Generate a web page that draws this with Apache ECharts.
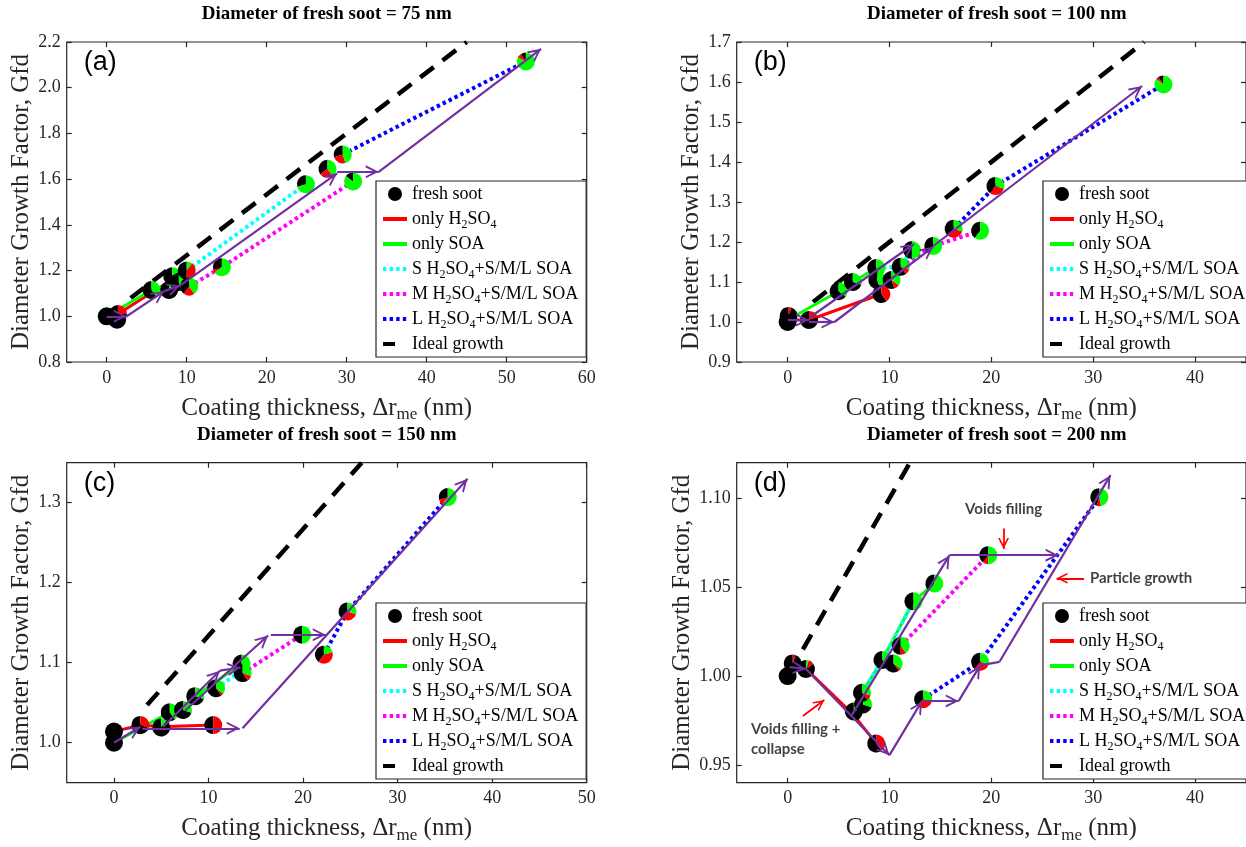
<!DOCTYPE html>
<html><head><meta charset="utf-8">
<script src="https://cdn.jsdelivr.net/npm/echarts@6/dist/echarts.min.js"></script>
<style>html,body{margin:0;padding:0;background:#fff}#c{width:1246px;height:847px}</style>
</head><body><div id="c"></div>
<script>
// ---------------- DATA ----------------
const titles = ['Diameter of fresh soot = 75 nm','Diameter of fresh soot = 100 nm','Diameter of fresh soot = 150 nm','Diameter of fresh soot = 200 nm'];
const panelLabels = ['(a)','(b)','(c)','(d)'];
const seriesNames = ['fresh soot','only H2SO4','only SOA','S H2SO4+S/M/L SOA','M H2SO4+S/M/L SOA','L H2SO4+S/M/L SOA','Ideal growth'];
const xTitle = 'Coating thickness, \u0394r{s|me} (nm)';
const yTitle = 'Diameter Growth Factor, Gfd';

const xRangeA = [-5,60], yRangeA = [0.8,2.2];
const xRangeB = [-5,45], yRangeB = [0.9,1.7];
const xRangeC = [-5,50], yRangeC = [0.95,1.35];
const xRangeD = [-5,45], yRangeD = [0.94,1.12];
const xTicksA = [0,10,20,30,40,50,60];
const xTicksB = [0,10,20,30,40];
const xTicksC = [0,10,20,30,40,50];
const xTicksD = [0,10,20,30,40];
const yTicksA = [0.8,1.0,1.2,1.4,1.6,1.8,2.0,2.2];
const yTicksB = [0.9,1.0,1.1,1.2,1.3,1.4,1.5,1.6,1.7];
const yTicksC = [1.0,1.1,1.2,1.3];
const yTicksD = [0.95,1.00,1.05,1.10];

// pies: [x, y, black fraction, red fraction, green fraction]
const piesA = [[0,1.0,1,0,0],[1.3,0.985,1,0,0],[1.4,1.01,0.75,0.25,0],[5.6,1.115,0.6,0,0.4],[7.8,1.115,0.8,0,0.2],[8.2,1.175,0.85,0,0.15],[9.0,1.15,0.55,0,0.45],[10.0,1.2,0.5,0.4,0.1],[10.3,1.13,0.4,0.2,0.4],[14.4,1.215,0.3,0.05,0.65],[24.9,1.578,0.3,0,0.7],[27.6,1.645,0.35,0.25,0.4],[29.5,1.708,0.3,0.25,0.45],[30.8,1.59,0.15,0,0.85],[52.4,2.115,0.1,0.08,0.82]];
const redA = [[0,1.0],[1.4,1.01],[10.0,1.2]];
const greenA = [[0,1.0],[5.6,1.115],[9.0,1.15]];
const cyanA = [[10.0,1.2],[24.9,1.578]];
const magentaA = [[10.3,1.13],[14.4,1.215],[30.8,1.59]];
const blueA = [[29.5,1.708],[52.4,2.115]];
const idealA = [[3,1.08],[45,2.2]];
const arrowsA = [[[0,1.0],[2.5,1.0]],[[2.5,1.0],[7.2,1.11]],[[7.2,1.11],[9.2,1.135]],[[9.2,1.135],[28.8,1.625]],[[28.8,1.632],[34,1.632]],[[34,1.632],[54.3,2.17]]];

const piesB = [[0,1.0,1,0,0],[0.1,1.015,0.95,0.05,0],[2.1,1.005,0.8,0.2,0],[5.0,1.077,0.65,0,0.35],[6.4,1.1,0.7,0,0.3],[8.7,1.135,0.6,0,0.4],[8.8,1.105,0.55,0,0.45],[9.2,1.07,0.6,0.4,0],[10.2,1.105,0.55,0.1,0.35],[11.1,1.138,0.6,0.1,0.3],[12.2,1.18,0.5,0,0.5],[14.3,1.19,0.4,0,0.6],[16.3,1.233,0.4,0.3,0.3],[18.9,1.228,0.4,0,0.6],[20.4,1.34,0.4,0.3,0.3],[36.9,1.594,0.1,0.05,0.85]];
const redB = [[0,1.005],[2.1,1.005],[9.2,1.07]];
const greenB = [[0,1.005],[5.0,1.077],[6.4,1.1],[8.7,1.135]];
const cyanB = [[8.7,1.135],[11.1,1.138],[12.2,1.18]];
const magentaB = [[11.1,1.138],[14.3,1.19],[18.9,1.228]];
const blueB = [[16.3,1.233],[20.4,1.34],[36.9,1.594]];
const idealB = [[2.5,1.05],[35,1.7]];
const arrowsB = [[[0,1.005],[2.1,1.005]],[[2.1,1.0],[4.6,1.0]],[[2.1,1.01],[12.4,1.195]],[[4.6,1.0],[14.3,1.188]],[[14.3,1.19],[34.8,1.59]]];

const piesC = [[0,1.0,1,0,0],[0,1.014,1,0,0],[2.8,1.022,0.7,0.3,0],[5.0,1.019,0.9,0,0.1],[5.9,1.038,0.6,0,0.4],[7.3,1.041,0.7,0,0.3],[8.6,1.058,0.7,0,0.3],[10.5,1.022,0.5,0.5,0],[10.8,1.068,0.6,0.05,0.35],[13.5,1.099,0.5,0,0.5],[13.6,1.087,0.6,0.1,0.3],[19.9,1.135,0.5,0,0.5],[22.2,1.11,0.4,0.4,0.2],[24.7,1.164,0.4,0.3,0.3],[35.3,1.307,0.3,0.1,0.6]];
const redC = [[0,1.014],[2.8,1.022],[5.0,1.02],[10.5,1.022]];
const greenC = [[0,1.0],[5.9,1.038],[7.3,1.041],[8.6,1.058],[13.5,1.099]];
const cyanC = [[10.8,1.068],[13.5,1.09]];
const magentaC = [[13.6,1.087],[19.9,1.135]];
const blueC = [[22.2,1.11],[24.7,1.164],[35.3,1.307]];
const idealC = [[3.5,1.047],[26.2,1.35]];
const arrowsC = [[[0,1.0],[2.8,1.02]],[[3,1.018],[13.3,1.018]],[[13.6,1.018],[37.4,1.33]],[[5.2,1.02],[11.2,1.09]],[[11.2,1.09],[13.4,1.094]],[[7.5,1.04],[16.3,1.134]],[[16.6,1.135],[22.4,1.135]]];

const piesD = [[0,1.0,1,0,0],[0.5,1.007,0.95,0.05,0],[1.8,1.004,0.85,0.1,0.05],[6.5,0.98,0.8,0,0.2],[7.4,0.984,0.7,0,0.3],[7.3,0.9906,0.6,0.1,0.3],[8.7,0.962,0.6,0.4,0],[9.3,1.009,0.6,0,0.4],[10.4,1.007,0.6,0.05,0.35],[11.1,1.017,0.5,0.1,0.4],[12.35,1.042,0.5,0,0.5],[14.4,1.052,0.4,0,0.6],[13.3,0.987,0.4,0.3,0.3],[18.9,1.008,0.4,0.3,0.3],[19.7,1.068,0.4,0.1,0.5],[30.6,1.1006,0.45,0.08,0.47]];
const redD = [[0.5,1.007],[1.8,1.004],[6.5,0.978],[8.7,0.962]];
const greenD = [[6.5,0.98],[7.3,0.9906],[9.3,1.009],[12.35,1.042],[14.4,1.052]];
const cyanD = [[7.3,0.9906],[9.3,1.009],[12.35,1.042]];
const magentaD = [[11.1,1.017],[19.7,1.068]];
const blueD = [[13.3,0.987],[18.9,1.008],[30.6,1.1006]];
const idealD = [[1.5,1.015],[12,1.12]];
const arrowsD = [[[0.2,1.005],[1.8,1.004]],[[1.8,1.004],[10,0.9555]],[[10,0.9555],[13.2,0.986]],[[13.4,0.986],[16.8,0.986]],[[16.8,0.986],[18.9,1.006]],[[20.8,1.008],[31.7,1.113]],[[6.3,0.978],[15.9,1.068]],[[15.9,1.068],[26.6,1.068]]];
const plainD = [[18.9,1.006],[20.8,1.008]];

// annotations in panel (d)
const noteTextsD = ['Voids filling','Particle growth','Voids filling +\ncollapse'];
const notePosD = [[21.2,1.094],[34.7,1.055],[-3.6,0.9645]];
const noteArrowsD = [[[21.2,1.083],[21.2,1.0715]],[[29.1,1.055],[26.4,1.055]],[[1.5,0.9775],[3.6,0.9865]]];

// ---------------- LAYOUT / STYLE ----------------
const SERIF = '"Liberation Serif","Times New Roman",serif';
const AX = '#262626';
const PURPLE = '#7030a0';
const CHEV = 'path://M-6,-12L-5.99,-12L-6,-11.99Z M18,12L17.99,12L18,11.99Z M0,12L6,0L12,12L10.1,12L6,3.9L1.9,12Z';
const gridPos = [{left:66.7,top:42},{left:736.7,top:42},{left:66.7,top:462.7},{left:736.7,top:462.7}];
const legendPos = [{left:376,top:181},{left:1043,top:181},{left:376,top:603},{left:1043,top:603}];

const panels = [
  {xr:xRangeA,yr:yRangeA,xt:xTicksA,yt:yTicksA,dec:1,pies:piesA,red:redA,green:greenA,cyan:cyanA,magenta:magentaA,blue:blueA,ideal:idealA,arrows:arrowsA},
  {xr:xRangeB,yr:yRangeB,xt:xTicksB,yt:yTicksB,dec:1,pies:piesB,red:redB,green:greenB,cyan:cyanB,magenta:magentaB,blue:blueB,ideal:idealB,arrows:arrowsB},
  {xr:xRangeC,yr:yRangeC,xt:xTicksC,yt:yTicksC,dec:1,pies:piesC,red:redC,green:greenC,cyan:cyanC,magenta:magentaC,blue:blueC,ideal:idealC,arrows:arrowsC},
  {xr:xRangeD,yr:yRangeD,xt:xTicksD,yt:yTicksD,dec:2,pies:piesD,red:redD,green:greenD,cyan:cyanD,magenta:magentaD,blue:blueD,ideal:idealD,arrows:arrowsD}
];

function renderPie(params, api) {
  const c = api.coord([api.value(0), api.value(1)]);
  const fr = [api.value(2), api.value(3), api.value(4)];
  const cols = ['#000000','#ff0000','#00ff00'];
  const R = 9;
  let a = -Math.PI / 2;
  const children = [];
  fr.forEach((f, k) => {
    if (f <= 0) return;
    const a2 = a - f * 2 * Math.PI;
    children.push({type:'sector', shape:{cx:c[0], cy:c[1], r:R, r0:0, startAngle:a2, endAngle:a, clockwise:true}, style:{fill:cols[k]}});
    a = a2;
  });
  return {type:'group', children};
}

const subRich = {s:{fontFamily:SERIF, fontSize:12, lineHeight:12, padding:[11,0,0,0], color:'#000'}};
const option = {animation:false, backgroundColor:'#fff', grid:[], xAxis:[], yAxis:[], series:[], legend:[], title:[]};

panels.forEach((p, i) => {
  const g = gridPos[i];
  option.grid.push({left:g.left, top:g.top, width:520, height:320, show:true, borderColor:AX, borderWidth:1.2, backgroundColor:'transparent'});
  const tickStyle = {color:AX, width:1.2};
  const noLine = {show:false, onZero:false};
  option.xAxis.push({gridIndex:i, type:'value', min:p.xr[0], max:p.xr[1], position:'bottom',
    axisLine:noLine, splitLine:{show:false},
    axisTick:{show:true, inside:true, length:5, lineStyle:tickStyle, customValues:p.xt},
    axisLabel:{customValues:p.xt, margin:7, color:AX, fontFamily:SERIF, fontSize:18, formatter:v=>String(v)},
    name:xTitle, nameLocation:'middle', nameGap:31,
    nameTextStyle:{fontFamily:SERIF, fontSize:25, color:AX, rich:{s:{fontFamily:SERIF, fontSize:17, padding:[13,0,0,0], color:AX}}}});
  option.xAxis.push({gridIndex:i, type:'value', min:p.xr[0], max:p.xr[1], position:'top',
    axisLine:noLine, splitLine:{show:false},
    axisTick:{show:true, inside:true, length:5, lineStyle:tickStyle, customValues:p.xt},
    axisLabel:{show:false}});
  option.yAxis.push({gridIndex:i, type:'value', min:p.yr[0], max:p.yr[1], position:'left',
    axisLine:noLine, splitLine:{show:false},
    axisTick:{show:true, inside:true, length:5, lineStyle:tickStyle, customValues:p.yt},
    axisLabel:{customValues:p.yt, margin:6, color:AX, fontFamily:SERIF, fontSize:18, formatter:v=>v.toFixed(p.dec)},
    name:yTitle, nameLocation:'middle', nameGap:33,
    nameTextStyle:{fontFamily:SERIF, fontSize:25, color:AX}});
  option.yAxis.push({gridIndex:i, type:'value', min:p.yr[0], max:p.yr[1], position:'right',
    axisLine:noLine, splitLine:{show:false},
    axisTick:{show:true, inside:true, length:5, lineStyle:tickStyle, customValues:p.yt},
    axisLabel:{show:false}});
  const xi = 2 * i, yi = 2 * i;
  const lineS = (name, data, color, width, type, z) => ({type:'line', name, xAxisIndex:xi, yAxisIndex:yi, data, symbol:'none', z,
    itemStyle:{color}, lineStyle:{color, width, type, cap:'butt'}, silent:true});
  option.series.push(lineS(seriesNames[6], p.ideal, '#000000', 4.5, [17,11], 1));
  option.series.push(lineS(seriesNames[1], p.red, '#ff0000', 3, 'solid', 2));
  option.series.push(lineS(seriesNames[2], p.green, '#00ff00', 3, 'solid', 2));
  option.series.push(lineS(seriesNames[3], p.cyan, '#00ffff', 4, [3.4,3.2], 2));
  option.series.push(lineS(seriesNames[4], p.magenta, '#ff00ff', 4, [3.4,3.2], 2));
  option.series.push(lineS(seriesNames[5], p.blue, '#0000ff', 4, [3.4,3.2], 2));
  option.series.push({type:'custom', name:seriesNames[0], xAxisIndex:xi, yAxisIndex:yi, data:p.pies, renderItem:renderPie,
    encode:{x:0, y:1}, itemStyle:{color:'#000'}, z:3, silent:true});
  option.series.push({type:'lines', name:'path'+i, coordinateSystem:'cartesian2d', xAxisIndex:xi, yAxisIndex:yi,
    data:p.arrows.map(c => ({coords:c})), symbol:['none', CHEV], symbolSize:26,
    lineStyle:{color:PURPLE, width:2.2, opacity:1, curveness:0}, z:4, silent:true});

  option.title.push({text:titles[i], left:g.left + 260, top:g.top - 37, textAlign:'center', padding:0,
    textStyle:{fontFamily:SERIF, fontWeight:'bold', fontSize:19, color:'#000'}});
  option.title.push({text:panelLabels[i], left:g.left + 17, top:g.top + 7, padding:0,
    textStyle:{fontFamily:'"Liberation Sans",Arial,sans-serif', fontWeight:'normal', fontSize:27, color:'#000'}});

  option.legend.push({orient:'vertical', left:legendPos[i].left, top:legendPos[i].top, itemWidth:24, itemHeight:14, itemGap:1,
    padding:[1,8,1,5], borderColor:AX, borderWidth:1.2, backgroundColor:'#fff', selectedMode:false, z:20,
    lineStyle:{width:4},
    textStyle:{fontFamily:SERIF, fontSize:18, color:'#000', lineHeight:24, rich:subRich},
    formatter:n => n.replace(/H2SO4/g, 'H{s|2}SO{s|4}'),
    data:[{name:seriesNames[0], icon:'circle', itemStyle:{color:'#000', opacity:1}},
      {name:seriesNames[1], itemStyle:{opacity:0}},
      {name:seriesNames[2], itemStyle:{opacity:0}},
      {name:seriesNames[3], itemStyle:{opacity:0}},
      {name:seriesNames[4], itemStyle:{opacity:0}},
      {name:seriesNames[5], itemStyle:{opacity:0}},
      {name:seriesNames[6], itemStyle:{opacity:0}, lineStyle:{type:[12,40]}}]});
});

// extra purple plain segment in (d)
option.series.push({type:'line', name:'plainD', xAxisIndex:6, yAxisIndex:6, data:plainD, symbol:'none', z:4, silent:true,
  lineStyle:{color:PURPLE, width:2.2}});
// annotation arrows (red) in (d)
option.series.push({type:'lines', name:'noteArrows', coordinateSystem:'cartesian2d', xAxisIndex:6, yAxisIndex:6,
  data:noteArrowsD.map(c => ({coords:c})), symbol:['none', CHEV], symbolSize:22,
  lineStyle:{color:'#ff0000', width:1.8, opacity:1}, z:5, silent:true});
// annotation texts in (d)
option.series.push({type:'scatter', name:'notes', xAxisIndex:6, yAxisIndex:6, symbolSize:0, z:6, silent:true,
  data:notePosD.map((pos, k) => ({value:pos, label:{show:true, position:[0,0], formatter:noteTextsD[k],
    align:k === 2 ? 'left' : 'center', verticalAlign:'middle', fontFamily:'Lato,"Open Sans",sans-serif', fontWeight:'bold',
    fontSize:15, lineHeight:20, color:'#111'}}))});

const chart = echarts.init(document.getElementById('c'), null, {renderer:'canvas'});
chart.setOption(option);
</script></body></html>
